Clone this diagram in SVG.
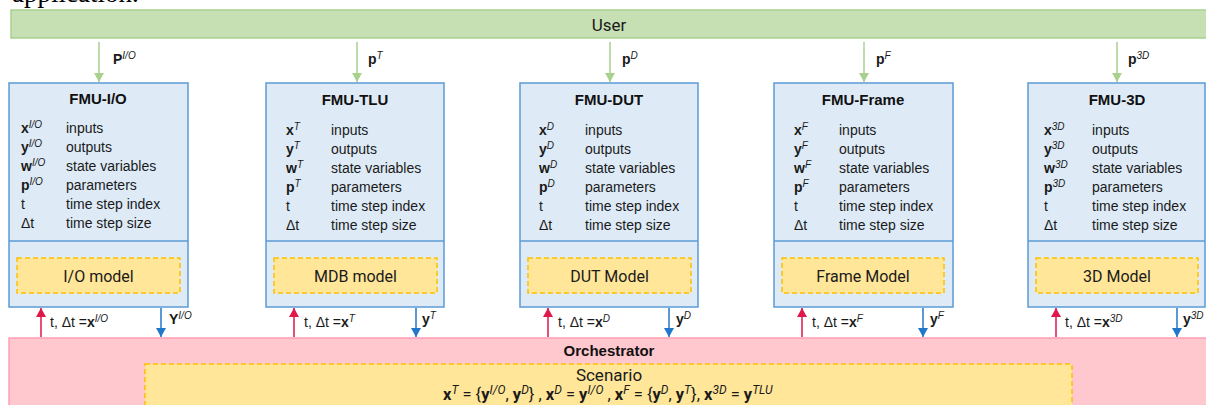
<svg xmlns="http://www.w3.org/2000/svg" width="1206" height="405" viewBox="0 0 1206 405">
<style>
.box{fill:#deebf7;stroke:#5b9bd5;stroke-width:1.5}
.div{stroke:#5b9bd5;stroke-width:1.5}
.mdl{fill:#ffe699;stroke:#ffc000;stroke-width:1.5;stroke-dasharray:5 3}
.t{font-family:"Liberation Sans",Arial,sans-serif;font-size:14px;fill:#1a1a1a}
.ti{font-family:"Liberation Sans",Arial,sans-serif;font-size:15px;font-weight:bold;fill:#111;text-anchor:middle}
.b{font-weight:bold}
.s{font-size:10px;font-style:italic;font-weight:normal}
.r{font-family:Roboto,"Liberation Sans",sans-serif;fill:#1a1a1a;text-anchor:middle}
.g{stroke:#a9d18e;stroke-width:1.5;fill:none}
.red{stroke:#e0174a;stroke-width:1.5;fill:none}
.blu{stroke:#2177c9;stroke-width:1.5;fill:none}
</style>
<defs>
<marker id="ag" markerUnits="userSpaceOnUse" markerWidth="12" markerHeight="10" refX="9" refY="5" orient="auto"><path d="M0,0 L9,5 L0,10 z" fill="#a9d18e"/></marker>
<marker id="ar" markerUnits="userSpaceOnUse" markerWidth="12" markerHeight="10" refX="9" refY="5" orient="auto"><path d="M0,0 L9,5 L0,10 z" fill="#e0174a"/></marker>
<marker id="ab" markerUnits="userSpaceOnUse" markerWidth="12" markerHeight="10" refX="9" refY="5" orient="auto"><path d="M0,0 L9,5 L0,10 z" fill="#2177c9"/></marker>
</defs>
<rect width="1206" height="405" fill="#ffffff"/>
<text x="12" y="2" font-family="'Liberation Serif',serif" font-size="27" fill="#000">application.</text>

<g id="user">
<rect x="11" y="10" width="1200" height="28" fill="#c6e0b4" stroke="#a9d18e" stroke-width="1.5"/>
<text class="r" x="609" y="31" font-size="17">User</text>
</g>

<g id="orchestrator">
<rect x="9" y="338" width="1202" height="80" fill="#ffc7ce" stroke="#ff9fb5" stroke-width="1.5"/>
<text class="ti" x="609" y="356">Orchestrator</text>
<rect class="mdl" x="145" y="364" width="927" height="50"/>
<text class="r" x="609" y="381" font-size="17" fill="#333">Scenario</text>
<text x="443" y="400" font-family="Roboto,'Liberation Sans',sans-serif" font-size="16.5" fill="#1a1a1a"><tspan font-weight="bold">x</tspan><tspan font-size="12" font-style="italic" dy="-6">T</tspan><tspan dy="6"> = {</tspan><tspan font-weight="bold">y</tspan><tspan font-size="12" font-style="italic" dy="-6">I/O</tspan><tspan dy="6">, </tspan><tspan font-weight="bold">y</tspan><tspan font-size="12" font-style="italic" dy="-6">D</tspan><tspan dy="6">} , </tspan><tspan font-weight="bold">x</tspan><tspan font-size="12" font-style="italic" dy="-6">D</tspan><tspan dy="6"> = </tspan><tspan font-weight="bold">y</tspan><tspan font-size="12" font-style="italic" dy="-6">I/O</tspan><tspan dy="6"> , </tspan><tspan font-weight="bold">x</tspan><tspan font-size="12" font-style="italic" dy="-6">F</tspan><tspan dy="6"> = {</tspan><tspan font-weight="bold">y</tspan><tspan font-size="12" font-style="italic" dy="-6">D</tspan><tspan dy="6">, </tspan><tspan font-weight="bold">y</tspan><tspan font-size="12" font-style="italic" dy="-6">T</tspan><tspan dy="6">}, </tspan><tspan font-weight="bold">x</tspan><tspan font-size="12" font-style="italic" dy="-6">3D</tspan><tspan dy="6"> = </tspan><tspan font-weight="bold">y</tspan><tspan font-size="12" font-style="italic" dy="-6">TLU</tspan></text>
</g>

<g id="fmu-io">
<rect class="box" x="9" y="83" width="179" height="224"/>
<line class="div" x1="9" y1="241" x2="188" y2="241"/>
<text class="ti" x="98" y="104">FMU-I/O</text>
<text class="t b" x="21" y="133">x<tspan class="s" dy="-5">I/O</tspan></text><text class="t" x="66" y="133">inputs</text>
<text class="t b" x="21" y="152">y<tspan class="s" dy="-5">I/O</tspan></text><text class="t" x="66" y="152">outputs</text>
<text class="t b" x="21" y="171">w<tspan class="s" dy="-5">I/O</tspan></text><text class="t" x="66" y="171">state variables</text>
<text class="t b" x="21" y="190">p<tspan class="s" dy="-5">I/O</tspan></text><text class="t" x="66" y="190">parameters</text>
<text class="t" x="21" y="209">t</text><text class="t" x="66" y="209">time step index</text>
<text class="t" x="21" y="228">Δt</text><text class="t" x="66" y="228">time step size</text>
<rect class="mdl" x="17" y="258" width="163" height="35"/>
<text class="r" x="98.5" y="282" font-size="16">I/O model</text>
</g>

<g id="fmu-tlu">
<rect class="box" x="266" y="83" width="178" height="224"/>
<line class="div" x1="266" y1="241" x2="444" y2="241"/>
<text class="ti" x="355" y="105">FMU-TLU</text>
<text class="t b" x="286" y="135">x<tspan class="s" dy="-5">T</tspan></text><text class="t" x="331" y="135">inputs</text>
<text class="t b" x="286" y="154">y<tspan class="s" dy="-5">T</tspan></text><text class="t" x="331" y="154">outputs</text>
<text class="t b" x="286" y="173">w<tspan class="s" dy="-5">T</tspan></text><text class="t" x="331" y="173">state variables</text>
<text class="t b" x="286" y="192">p<tspan class="s" dy="-5">T</tspan></text><text class="t" x="331" y="192">parameters</text>
<text class="t" x="286" y="211">t</text><text class="t" x="331" y="211">time step index</text>
<text class="t" x="286" y="230">Δt</text><text class="t" x="331" y="230">time step size</text>
<rect class="mdl" x="274" y="258" width="163" height="35"/>
<text class="r" x="355.5" y="282" font-size="16">MDB model</text>
</g>

<g id="fmu-dut">
<rect class="box" x="520" y="83" width="178" height="224"/>
<line class="div" x1="520" y1="241" x2="698" y2="241"/>
<text class="ti" x="609" y="105">FMU-DUT</text>
<text class="t b" x="539" y="135">x<tspan class="s" dy="-5">D</tspan></text><text class="t" x="585" y="135">inputs</text>
<text class="t b" x="539" y="154">y<tspan class="s" dy="-5">D</tspan></text><text class="t" x="585" y="154">outputs</text>
<text class="t b" x="539" y="173">w<tspan class="s" dy="-5">D</tspan></text><text class="t" x="585" y="173">state variables</text>
<text class="t b" x="539" y="192">p<tspan class="s" dy="-5">D</tspan></text><text class="t" x="585" y="192">parameters</text>
<text class="t" x="539" y="211">t</text><text class="t" x="585" y="211">time step index</text>
<text class="t" x="539" y="230">Δt</text><text class="t" x="585" y="230">time step size</text>
<rect class="mdl" x="528" y="258" width="163" height="35"/>
<text class="r" x="609.5" y="282" font-size="16">DUT Model</text>
</g>

<g id="fmu-frame">
<rect class="box" x="774" y="83" width="179" height="224"/>
<line class="div" x1="774" y1="241" x2="953" y2="241"/>
<text class="ti" x="863" y="105">FMU-Frame</text>
<text class="t b" x="794" y="135">x<tspan class="s" dy="-5">F</tspan></text><text class="t" x="839" y="135">inputs</text>
<text class="t b" x="794" y="154">y<tspan class="s" dy="-5">F</tspan></text><text class="t" x="839" y="154">outputs</text>
<text class="t b" x="794" y="173">w<tspan class="s" dy="-5">F</tspan></text><text class="t" x="839" y="173">state variables</text>
<text class="t b" x="794" y="192">p<tspan class="s" dy="-5">F</tspan></text><text class="t" x="839" y="192">parameters</text>
<text class="t" x="794" y="211">t</text><text class="t" x="839" y="211">time step index</text>
<text class="t" x="794" y="230">Δt</text><text class="t" x="839" y="230">time step size</text>
<rect class="mdl" x="782" y="258" width="162" height="35"/>
<text class="r" x="863" y="282" font-size="16">Frame Model</text>
</g>

<g id="fmu-3d">
<rect class="box" x="1028" y="83" width="177" height="224"/>
<line class="div" x1="1028" y1="241" x2="1205" y2="241"/>
<text class="ti" x="1117" y="105">FMU-3D</text>
<text class="t b" x="1044" y="135">x<tspan class="s" dy="-5">3D</tspan></text><text class="t" x="1092" y="135">inputs</text>
<text class="t b" x="1044" y="154">y<tspan class="s" dy="-5">3D</tspan></text><text class="t" x="1092" y="154">outputs</text>
<text class="t b" x="1044" y="173">w<tspan class="s" dy="-5">3D</tspan></text><text class="t" x="1092" y="173">state variables</text>
<text class="t b" x="1044" y="192">p<tspan class="s" dy="-5">3D</tspan></text><text class="t" x="1092" y="192">parameters</text>
<text class="t" x="1044" y="211">t</text><text class="t" x="1092" y="211">time step index</text>
<text class="t" x="1044" y="230">Δt</text><text class="t" x="1092" y="230">time step size</text>
<rect class="mdl" x="1036" y="258" width="162" height="35"/>
<text class="r" x="1117" y="282" font-size="16">3D Model</text>
</g>

<g id="connectors">
<line class="g" x1="99" y1="42" x2="99" y2="82" marker-end="url(#ag)"/>
<line class="g" x1="357" y1="42" x2="357" y2="82" marker-end="url(#ag)"/>
<line class="g" x1="610" y1="42" x2="610" y2="82" marker-end="url(#ag)"/>
<line class="g" x1="864" y1="42" x2="864" y2="82" marker-end="url(#ag)"/>
<line class="g" x1="1117" y1="42" x2="1117" y2="82" marker-end="url(#ag)"/>
<text class="t b" x="113" y="64">P<tspan class="s" dy="-5">I/O</tspan></text>
<text class="t b" x="368" y="64">p<tspan class="s" dy="-5">T</tspan></text>
<text class="t b" x="622" y="64">p<tspan class="s" dy="-5">D</tspan></text>
<text class="t b" x="876" y="64">p<tspan class="s" dy="-5">F</tspan></text>
<text class="t b" x="1128" y="64">p<tspan class="s" dy="-5">3D</tspan></text>

<line class="red" x1="41" y1="337" x2="41" y2="308" marker-end="url(#ar)"/>
<line class="red" x1="294" y1="337" x2="294" y2="308" marker-end="url(#ar)"/>
<line class="red" x1="548" y1="337" x2="548" y2="308" marker-end="url(#ar)"/>
<line class="red" x1="802" y1="337" x2="802" y2="308" marker-end="url(#ar)"/>
<line class="red" x1="1056" y1="337" x2="1056" y2="308" marker-end="url(#ar)"/>
<line class="blu" x1="161" y1="308" x2="161" y2="337" marker-end="url(#ab)"/>
<line class="blu" x1="416" y1="308" x2="416" y2="337" marker-end="url(#ab)"/>
<line class="blu" x1="669" y1="308" x2="669" y2="337" marker-end="url(#ab)"/>
<line class="blu" x1="923" y1="308" x2="923" y2="337" marker-end="url(#ab)"/>
<line class="blu" x1="1177" y1="308" x2="1177" y2="337" marker-end="url(#ab)"/>

<text class="t" x="50" y="327">t, Δt =<tspan class="b">x</tspan><tspan class="s" dy="-5">I/O</tspan></text>
<text class="t" x="304" y="327">t, Δt =<tspan class="b">x</tspan><tspan class="s" dy="-5" font-weight="bold">T</tspan></text>
<text class="t" x="558" y="327">t, Δt =<tspan class="b">x</tspan><tspan class="s" dy="-5">D</tspan></text>
<text class="t" x="812" y="327">t, Δt =<tspan class="b">x</tspan><tspan class="s" dy="-5">F</tspan></text>
<text class="t" x="1065" y="327">t, Δt =<tspan class="b">x</tspan><tspan class="s" dy="-5" font-weight="bold">3D</tspan></text>
<text class="t b" x="169" y="324">Y<tspan class="s" dy="-5">I/O</tspan></text>
<text class="t b" x="422" y="324">y<tspan class="s" dy="-5" font-weight="bold">T</tspan></text>
<text class="t b" x="676" y="324">y<tspan class="s" dy="-5">D</tspan></text>
<text class="t b" x="930" y="324">y<tspan class="s" dy="-5">F</tspan></text>
<text class="t b" x="1183" y="324">y<tspan class="s" dy="-5" font-weight="bold">3D</tspan></text>
</g>
</svg>
